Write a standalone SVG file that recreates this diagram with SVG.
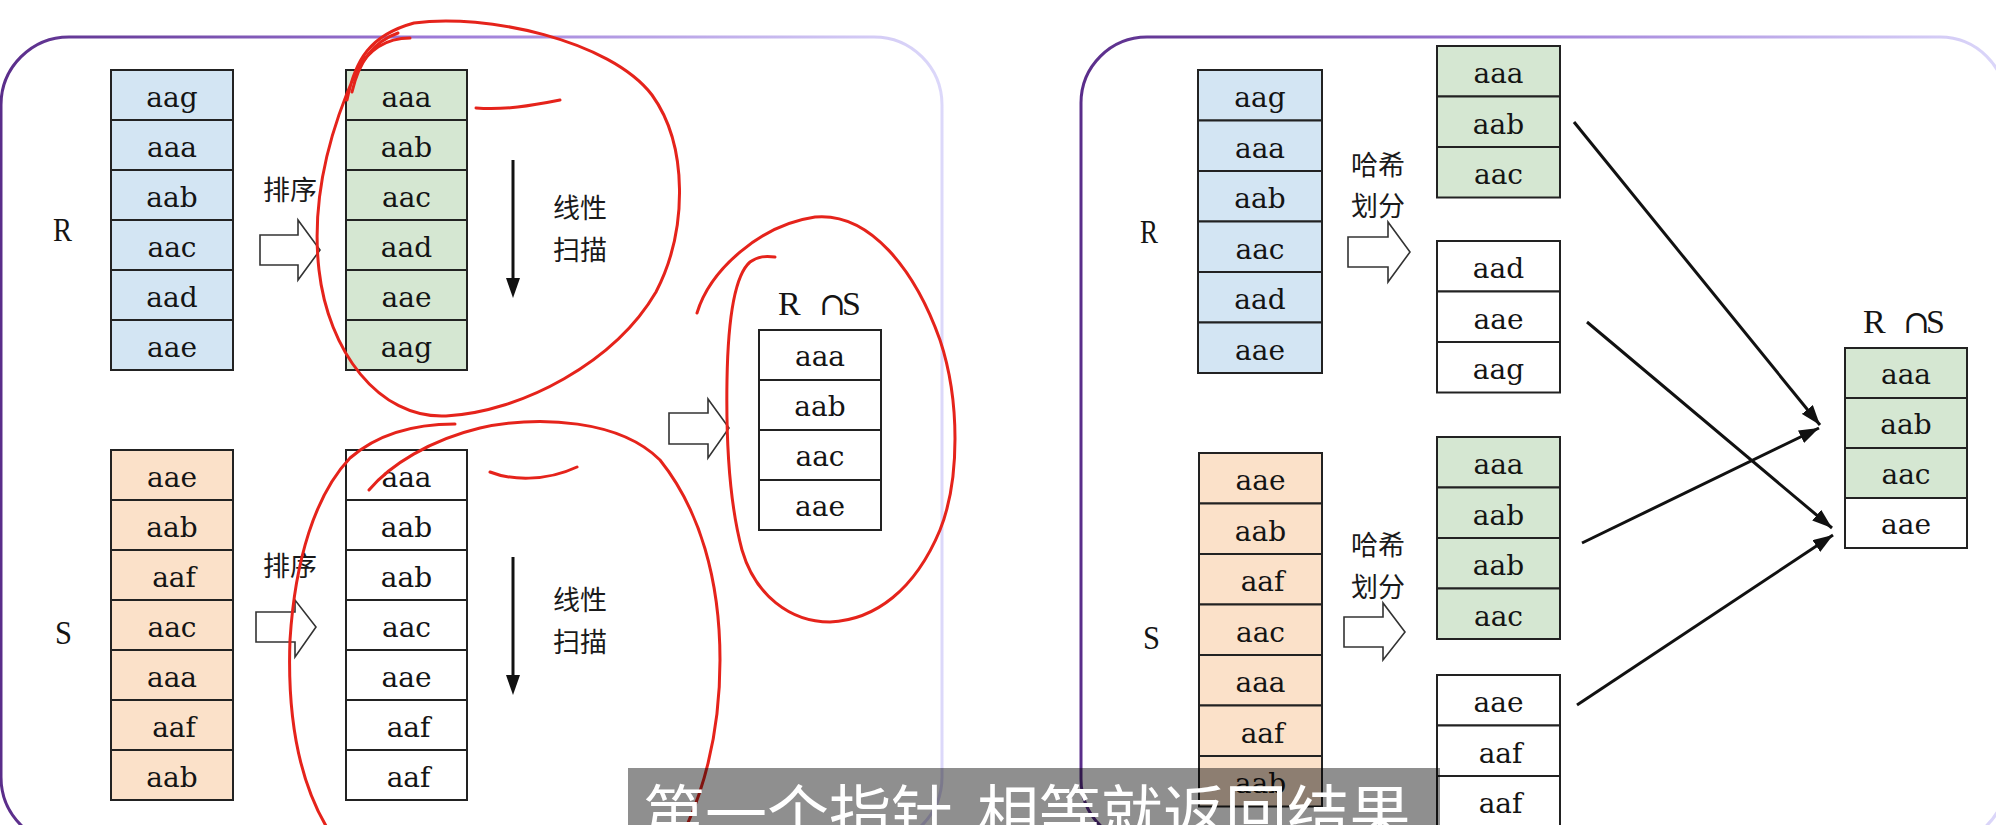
<svg xmlns="http://www.w3.org/2000/svg" width="1996" height="825" viewBox="0 0 1996 825">
<style>
.cell{stroke:#222;stroke-width:2}
.b{fill:#d3e5f3}.g{fill:#d5e7d2}.o{fill:#fbe1c9}.w{fill:#ffffff}
.c{font-family:"DejaVu Serif","Liberation Serif",serif;font-size:28px;text-anchor:middle;fill:#141414}
.lbl{font-family:"Liberation Serif","DejaVu Serif",serif;font-size:34px;fill:#141414}
.cjk{font-family:"Noto Sans CJK SC","Noto Sans",sans-serif;font-size:27px;fill:#1a1a1a}
.hol{fill:#fff;stroke:#333;stroke-width:1.6}
.red{fill:none;stroke:#e5231b;stroke-width:3;stroke-linecap:round;stroke-linejoin:round}
.con{stroke:#111;stroke-width:3;fill:none}
</style>
<defs>
<linearGradient id="gL" x1="0" y1="0" x2="1" y2="0">
<stop offset="0" stop-color="#5a2d8a"/><stop offset="0.45" stop-color="#9b78d6"/><stop offset="1" stop-color="#dcd8fa"/>
</linearGradient>
<linearGradient id="gR" x1="0" y1="0" x2="1" y2="0">
<stop offset="0" stop-color="#5a2d8a"/><stop offset="0.45" stop-color="#9b78d6"/><stop offset="1" stop-color="#dcd8fa"/>
</linearGradient>
<marker id="ah" viewBox="0 0 20 14" refX="20" refY="7" markerWidth="20" markerHeight="14" markerUnits="userSpaceOnUse" orient="auto">
<path d="M0,0 L20,7 L0,14 z" fill="#111"/>
</marker>
</defs>
<rect x="0" y="0" width="1996" height="825" fill="#ffffff"/>

<g id="panel-left"><rect x="1" y="37" width="941" height="808" rx="68" fill="#fff" stroke="url(#gL)" stroke-width="3"/></g>
<g id="panel-right"><rect x="1081" y="37" width="925" height="808" rx="66" fill="#fff" stroke="url(#gR)" stroke-width="3"/></g>

<!-- LEFT: sort-merge -->
<g id="label-R-left"><text class="lbl" x="53" y="241" textLength="19" lengthAdjust="spacingAndGlyphs">R</text></g>
<g id="table-R-left">
<rect class="cell b" x="111" y="70" width="122" height="50"/><rect class="cell b" x="111" y="120" width="122" height="50"/><rect class="cell b" x="111" y="170" width="122" height="50"/><rect class="cell b" x="111" y="220" width="122" height="50"/><rect class="cell b" x="111" y="270" width="122" height="50"/><rect class="cell b" x="111" y="320" width="122" height="50"/>
<text class="c" x="172" y="107">aag</text><text class="c" x="172" y="157">aaa</text><text class="c" x="172" y="207">aab</text><text class="c" x="172" y="257">aac</text><text class="c" x="172" y="307">aad</text><text class="c" x="172" y="357">aae</text>
</g>
<g id="sort-R"><text class="cjk" x="263" y="200">排序</text><polygon class="hol" points="260,235 298,235 298,220 320,250 298,280 298,265 260,265"/></g>
<g id="table-R-sorted">
<rect class="cell g" x="346" y="70" width="121" height="50"/><rect class="cell g" x="346" y="120" width="121" height="50"/><rect class="cell g" x="346" y="170" width="121" height="50"/><rect class="cell g" x="346" y="220" width="121" height="50"/><rect class="cell g" x="346" y="270" width="121" height="50"/><rect class="cell g" x="346" y="320" width="121" height="50"/>
<text class="c" x="406.5" y="107">aaa</text><text class="c" x="406.5" y="157">aab</text><text class="c" x="406.5" y="207">aac</text><text class="c" x="406.5" y="257">aad</text><text class="c" x="406.5" y="307">aae</text><text class="c" x="406.5" y="357">aag</text>
</g>
<g id="scan-R"><line class="con" x1="513" y1="160" x2="513" y2="282"/><polygon points="506,278 520,278 513,298" fill="#111"/><text class="cjk" x="553" y="218" font-size="28">线性</text><text class="cjk" x="553" y="260" font-size="28">扫描</text></g>

<g id="label-S-left"><text class="lbl" x="55" y="644" textLength="17" lengthAdjust="spacingAndGlyphs">S</text></g>
<g id="table-S-left">
<rect class="cell o" x="111" y="450" width="122" height="50"/><rect class="cell o" x="111" y="500" width="122" height="50"/><rect class="cell o" x="111" y="550" width="122" height="50"/><rect class="cell o" x="111" y="600" width="122" height="50"/><rect class="cell o" x="111" y="650" width="122" height="50"/><rect class="cell o" x="111" y="700" width="122" height="50"/><rect class="cell o" x="111" y="750" width="122" height="50"/>
<text class="c" x="172" y="487">aae</text><text class="c" x="172" y="537">aab</text><text class="c" x="174" y="587">aaf</text><text class="c" x="172" y="637">aac</text><text class="c" x="172" y="687">aaa</text><text class="c" x="174" y="737">aaf</text><text class="c" x="172" y="787">aab</text>
</g>
<g id="sort-S"><text class="cjk" x="263" y="576">排序</text><polygon class="hol" points="256,612 295,612 295,600 316,627 295,657 295,642 256,642"/></g>
<g id="table-S-sorted">
<rect class="cell w" x="346" y="450" width="121" height="50"/><rect class="cell w" x="346" y="500" width="121" height="50"/><rect class="cell w" x="346" y="550" width="121" height="50"/><rect class="cell w" x="346" y="600" width="121" height="50"/><rect class="cell w" x="346" y="650" width="121" height="50"/><rect class="cell w" x="346" y="700" width="121" height="50"/><rect class="cell w" x="346" y="750" width="121" height="50"/>
<text class="c" x="406.5" y="487">aaa</text><text class="c" x="406.5" y="537">aab</text><text class="c" x="406.5" y="587">aab</text><text class="c" x="406.5" y="637">aac</text><text class="c" x="406.5" y="687">aae</text><text class="c" x="408.5" y="737">aaf</text><text class="c" x="408.5" y="787">aaf</text>
</g>
<g id="scan-S"><line class="con" x1="513" y1="557" x2="513" y2="679"/><polygon points="506,675 520,675 513,695" fill="#111"/><text class="cjk" x="553" y="610" font-size="28">线性</text><text class="cjk" x="553" y="652" font-size="28">扫描</text></g>

<g id="to-result-left"><polygon class="hol" points="669,413 708,413 708,399 729,428 708,458 708,444 669,444"/></g>
<g id="result-left">
<text class="lbl" y="315"><tspan x="778">R</tspan><tspan x="819" font-family="DejaVu Serif" font-size="32">∩</tspan><tspan x="842">S</tspan></text>
<rect class="cell w" x="759" y="330" width="122" height="50"/><rect class="cell w" x="759" y="380" width="122" height="50"/><rect class="cell w" x="759" y="430" width="122" height="50"/><rect class="cell w" x="759" y="480" width="122" height="50"/>
<text class="c" x="820" y="366">aaa</text><text class="c" x="820" y="416">aab</text><text class="c" x="820" y="466">aac</text><text class="c" x="820" y="516">aae</text>
</g>

<!-- RIGHT: hash -->
<g id="label-R-right"><text class="lbl" x="1140" y="243" textLength="18" lengthAdjust="spacingAndGlyphs">R</text></g>
<g id="table-R-right">
<rect class="cell b" x="1198" y="70" width="124" height="50.5"/><rect class="cell b" x="1198" y="120.5" width="124" height="50.5"/><rect class="cell b" x="1198" y="171" width="124" height="50.5"/><rect class="cell b" x="1198" y="221.5" width="124" height="50.5"/><rect class="cell b" x="1198" y="272" width="124" height="50.5"/><rect class="cell b" x="1198" y="322.5" width="124" height="50.5"/>
<text class="c" x="1260" y="107">aag</text><text class="c" x="1260" y="157.5">aaa</text><text class="c" x="1260" y="208">aab</text><text class="c" x="1260" y="258.5">aac</text><text class="c" x="1260" y="309">aad</text><text class="c" x="1260" y="359.5">aae</text>
</g>
<g id="hash-R"><text class="cjk" x="1351" y="175">哈希</text><text class="cjk" x="1351" y="216">划分</text><polygon class="hol" points="1348,237 1388,237 1388,222 1410,252 1388,282 1388,267 1348,267"/></g>
<g id="bucket-R-1">
<rect class="cell g" x="1437" y="46" width="123" height="50.5"/><rect class="cell g" x="1437" y="96.5" width="123" height="50.5"/><rect class="cell g" x="1437" y="147" width="123" height="50.5"/>
<text class="c" x="1498.5" y="83">aaa</text><text class="c" x="1498.5" y="133.5">aab</text><text class="c" x="1498.5" y="184">aac</text>
</g>
<g id="bucket-R-2">
<rect class="cell w" x="1437" y="241" width="123" height="50.5"/><rect class="cell w" x="1437" y="291.5" width="123" height="50.5"/><rect class="cell w" x="1437" y="342" width="123" height="50.5"/>
<text class="c" x="1498.5" y="278">aad</text><text class="c" x="1498.5" y="328.5">aae</text><text class="c" x="1498.5" y="379">aag</text>
</g>

<g id="label-S-right"><text class="lbl" x="1143" y="649" textLength="17" lengthAdjust="spacingAndGlyphs">S</text></g>
<g id="table-S-right">
<rect class="cell o" x="1199" y="453" width="123" height="50.5"/><rect class="cell o" x="1199" y="503.5" width="123" height="50.5"/><rect class="cell o" x="1199" y="554" width="123" height="50.5"/><rect class="cell o" x="1199" y="604.5" width="123" height="50.5"/><rect class="cell o" x="1199" y="655" width="123" height="50.5"/><rect class="cell o" x="1199" y="705.5" width="123" height="50.5"/><rect class="cell o" x="1199" y="756" width="123" height="50.5"/>
<text class="c" x="1260.5" y="490">aae</text><text class="c" x="1260.5" y="540.5">aab</text><text class="c" x="1262.5" y="591">aaf</text><text class="c" x="1260.5" y="641.5">aac</text><text class="c" x="1260.5" y="692">aaa</text><text class="c" x="1262.5" y="742.5">aaf</text><text class="c" x="1260.5" y="793">aab</text>
</g>
<g id="hash-S"><text class="cjk" x="1351" y="555">哈希</text><text class="cjk" x="1351" y="597">划分</text><polygon class="hol" points="1344,617 1383,617 1383,603 1405,632 1383,660 1383,647 1344,647"/></g>
<g id="bucket-S-1">
<rect class="cell g" x="1437" y="437" width="123" height="50.5"/><rect class="cell g" x="1437" y="487.5" width="123" height="50.5"/><rect class="cell g" x="1437" y="538" width="123" height="50.5"/><rect class="cell g" x="1437" y="588.5" width="123" height="50.5"/>
<text class="c" x="1498.5" y="474">aaa</text><text class="c" x="1498.5" y="524.5">aab</text><text class="c" x="1498.5" y="575">aab</text><text class="c" x="1498.5" y="625.5">aac</text>
</g>
<g id="bucket-S-2">
<rect class="cell w" x="1437" y="675" width="123" height="50.5"/><rect class="cell w" x="1437" y="725.5" width="123" height="50.5"/><rect class="cell w" x="1437" y="776" width="123" height="50.5"/>
<text class="c" x="1498.5" y="712">aae</text><text class="c" x="1500.5" y="762.5">aaf</text><text class="c" x="1500.5" y="813">aaf</text>
</g>

<g id="result-right">
<text class="lbl" y="333"><tspan x="1863">R</tspan><tspan x="1903" font-family="DejaVu Serif" font-size="32">∩</tspan><tspan x="1926">S</tspan></text>
<rect class="cell g" x="1845" y="348" width="122" height="50"/><rect class="cell g" x="1845" y="398" width="122" height="50"/><rect class="cell g" x="1845" y="448" width="122" height="50"/><rect class="cell w" x="1845" y="498" width="122" height="50"/>
<text class="c" x="1906" y="384">aaa</text><text class="c" x="1906" y="434">aab</text><text class="c" x="1906" y="484">aac</text><text class="c" x="1906" y="534">aae</text>
</g>

<g id="connectors">
<line class="con" x1="1574" y1="122" x2="1820" y2="425" marker-end="url(#ah)"/>
<line class="con" x1="1587" y1="322" x2="1832" y2="528" marker-end="url(#ah)"/>
<line class="con" x1="1582" y1="543" x2="1819" y2="428" marker-end="url(#ah)"/>
<line class="con" x1="1577" y1="705" x2="1833" y2="535" marker-end="url(#ah)"/>
</g>

<g id="annotations">
<path class="red" d="M347,100 C355,60 370,35 414,23 C485,13 610,40 652,95 C688,145 688,230 656,292 C615,362 522,412 446,416 C378,419 328,350 319,270 C311,200 330,130 356,72 C368,50 385,38 410,38"/>
<path class="red" d="M352,92 C358,65 372,42 398,33"/>
<path class="red" d="M476,108 C505,110 530,106 560,100"/>
<path class="red" d="M369,490 C390,465 430,440 480,428 C540,415 620,420 660,460 C700,510 720,580 720,660 C720,730 705,790 680,840"/>
<path class="red" d="M455,424 C420,424 380,432 350,458 C315,495 295,560 290,640 C287,720 300,790 335,840"/>
<path class="red" d="M490,472 C510,480 545,482 577,467"/>
<path class="red" d="M697,313 C710,270 760,225 815,217 C870,212 915,270 940,340 C960,400 960,480 940,530 C915,590 875,620 830,622 C790,622 755,595 742,550 C730,505 726,440 727,380 C728,320 735,275 750,262 C758,256 766,256 775,257"/>
</g>

<g id="subtitle">
<rect x="628" y="768" width="812" height="70" fill="#000" fill-opacity="0.44"/>
<text x="643" y="837" font-family="Noto Sans CJK SC, sans-serif" font-size="62" fill="#fff" word-spacing="10">第一个指针 相等就返回结果</text>
</g>
</svg>
